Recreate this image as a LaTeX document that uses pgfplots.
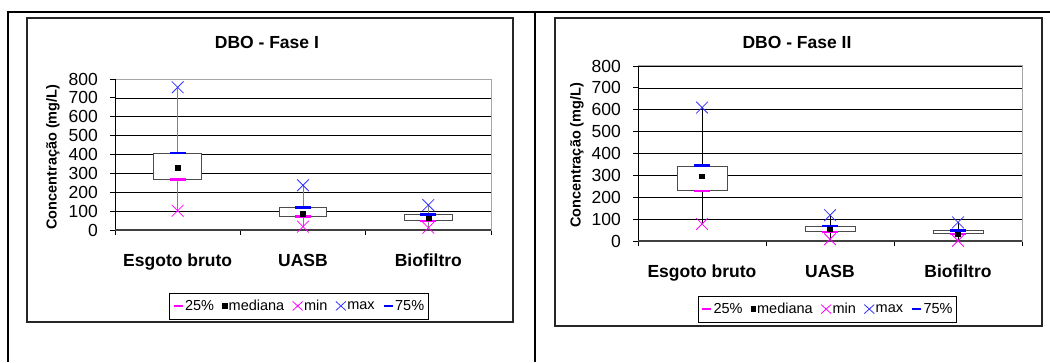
\documentclass[border=0pt]{standalone}
\usepackage{fontspec}
\setmainfont{Liberation Sans}
\usepackage{pgfplots}
\pgfplotsset{compat=1.18}
\definecolor{mag}{RGB}{255,0,255}
\definecolor{mxblue}{RGB}{51,51,255}
\definecolor{qblue}{RGB}{0,0,255}

\pgfplotsset{
 dbo/.style={
  scale only axis, anchor=south west, clip=false,
  xmin=0.5, xmax=3.5, ymin=0, ymax=800,
  axis line style={draw=none},
  ytick={0,100,...,800},
  ymajorgrids, grid style={black, line width=0.7pt},
  xtick={0.5,1.5,2.5,3.5}, xticklabels={,,,},
  extra x ticks={1,2,3},
  extra x tick labels={Esgoto bruto,UASB,Biofiltro},
  extra x tick style={tick style={draw=none}},
  tick align=outside, major tick length=5pt, tick pos=left,
  tick style={black, line width=0.8pt},
  /pgf/number format/assume math mode=true,
  yticklabel style={font=\fontsize{17.5}{20}\selectfont, anchor=east, inner sep=0pt, xshift=-12pt},
  xticklabel style={font=\fontsize{17.5}{20}\selectfont\bfseries, anchor=base, inner sep=0pt},
  title style={font=\fontsize{17.5}{20}\selectfont\bfseries, anchor=center, yshift=-6pt},
  ylabel style={font=\fontsize{14.5}{16}\selectfont\bfseries, anchor=center},
  legend columns=5,
  legend style={anchor=center, draw=black, line width=0.8pt, font=\fontsize{14.5}{16}\selectfont,
     inner xsep=3pt, inner ysep=4pt,
     nodes={inner xsep=1pt, inner ysep=3pt},
     /tikz/every even column/.append style={column sep=7pt}},
  legend cell align=left,
  unbounded coords=jump,
 },
 q25/.style={only marks, mark=-, mark size=8pt, color=mag, mark options={line width=2.5pt},
   legend image code/.code={\draw[mag,line width=2.5pt] (0pt,0pt)--(9pt,0pt);}},
 q75/.style={only marks, mark=-, mark size=8pt, color=qblue, mark options={line width=2.5pt},
   legend image code/.code={\draw[qblue,line width=2.5pt] (0pt,0pt)--(9pt,0pt);}},
 med/.style={only marks, mark=square*, mark size=2.4pt, color=black,
   legend image code/.code={\fill[black] (0pt,-2.4pt) rectangle (4.8pt,2.4pt);}},
 mn/.style={only marks, mark=x, mark size=8.3pt, color=mag, mark options={line width=0.8pt},
   legend image code/.code={\draw[mag,line width=0.8pt] (0pt,-4.5pt)--(10pt,4.5pt) (0pt,4.5pt)--(10pt,-4.5pt);}},
 mx/.style={only marks, mark=x, mark size=8.3pt, color=mxblue, mark options={line width=0.8pt},
   legend image code/.code={\draw[mxblue,line width=0.8pt] (0pt,-4.5pt)--(10pt,4.5pt) (0pt,4.5pt)--(10pt,-4.5pt);}},
 bx/.style={forget plot, draw=black!70, fill=white, line width=0.9pt},
 wh/.style={forget plot, draw=#1, line width=1pt, mark=none},
}

\begin{document}
\begin{tikzpicture}
\useasboundingbox (0pt,0pt) rectangle (1050pt,362pt);
\draw[line width=2pt] (7pt,350pt) -- (1050pt,350pt);
\draw[line width=2pt] (8pt,351pt) -- (8pt,0pt);
\draw[line width=2pt] (535pt,351pt) -- (535pt,0pt);
\draw[line width=1.2pt, black!85] (27pt,344pt) rectangle (513pt,40pt);
\draw[line width=1.2pt, black!85] (555pt,344pt) rectangle (1042pt,36pt);

% ---------------- Fase I
\begin{axis}[dbo, at={(115pt,132pt)}, width=376pt, height=151pt,
  title={DBO - Fase I},
  title style={at={(axis description cs:0.404,1.245)}},
  ylabel={Concentração (mg/L)},
  ylabel style={at={(axis description cs:-0.165,0.483)}},
  xticklabel style={yshift=-31pt},
  legend style={at={(axis description cs:0.489,-0.503)}},
]
\draw[gray!70, line width=1pt] (rel axis cs:0,0) rectangle (rel axis cs:1,1);
\draw[black, line width=0.9pt] (rel axis cs:0,0)--(rel axis cs:0,1);
\draw[black!75, line width=1.2pt] (rel axis cs:0,0)--(rel axis cs:1,0);
% whiskers (min to max)
\addplot[wh=gray] coordinates {(1,102) (1,756) (1,nan) (2,18) (2,237) (2,nan) (3,12) (3,132)};
% boxes (25% to 75%)
\addplot[bx] coordinates {(0.81,268) (1.19,268) (1.19,406) (0.81,406)} -- cycle;
\addplot[bx] coordinates {(1.81,73) (2.19,73) (2.19,117) (1.81,117)} -- cycle;
\addplot[bx] coordinates {(2.81,50) (3.19,50) (3.19,82) (2.81,82)} -- cycle;
\addplot[q25] coordinates {(1,268) (2,72) (3,49)};
\addlegendentry{25\%}
\addplot[med] coordinates {(1,332) (2,88) (3,62)};
\addlegendentry{mediana}
\addplot[mn] coordinates {(1,102) (2,18) (3,12)};
\addlegendentry{min}
\addplot[mx] coordinates {(1,756) (2,237) (3,132)};
\addlegendentry{max}
\addplot[q75] coordinates {(1,407) (2,119) (3,83)};
\addlegendentry{75\%}
\end{axis}

% ---------------- Fase II
\begin{axis}[dbo, at={(638pt,121pt)}, width=384pt, height=175pt,
  title={DBO - Fase II},
  title style={at={(axis description cs:0.414,1.137)}},
  ylabel={Concentração (mg/L)},
  ylabel style={at={(axis description cs:-0.159,0.49)}},
  xticklabel style={yshift=-31pt},
  legend style={at={(axis description cs:0.493,-0.389)}},
]
\draw[gray!70, line width=1pt] (rel axis cs:0,0) rectangle (rel axis cs:1,1);
\draw[black, line width=0.9pt] (rel axis cs:0,0)--(rel axis cs:0,1);
\draw[black!75, line width=1.2pt] (rel axis cs:0,0)--(rel axis cs:1,0);
\addplot[wh=black] coordinates {(1,78) (1,610) (1,nan) (2,8) (2,118) (2,nan) (3,1) (3,85)};
\addplot[bx] coordinates {(0.805,231) (1.195,231) (1.195,342) (0.805,342)} -- cycle;
\addplot[bx] coordinates {(1.805,45) (2.195,45) (2.195,66) (1.805,66)} -- cycle;
\addplot[bx] coordinates {(2.805,33) (3.195,33) (3.195,46) (2.805,46)} -- cycle;
\addplot[q25] coordinates {(1,229) (2,42) (3,33)};
\addlegendentry{25\%}
\addplot[med] coordinates {(1,296) (2,54) (3,35)};
\addlegendentry{mediana}
\addplot[mn] coordinates {(1,78) (2,8) (3,1)};
\addlegendentry{min}
\addplot[mx] coordinates {(1,610) (2,118) (3,85)};
\addlegendentry{max}
\addplot[q75] coordinates {(1,345) (2,68) (3,47)};
\addlegendentry{75\%}
\end{axis}
\end{tikzpicture}
\end{document}
